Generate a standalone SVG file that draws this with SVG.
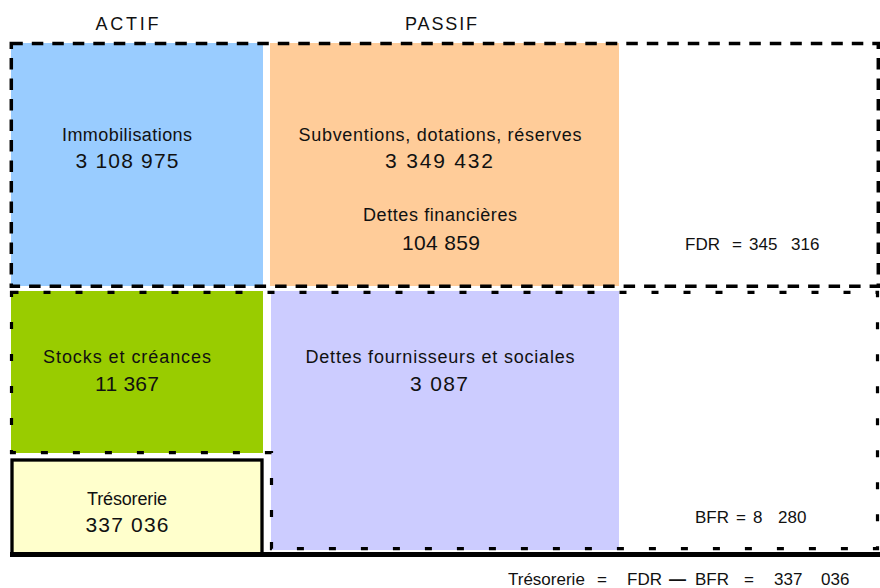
<svg xmlns="http://www.w3.org/2000/svg" width="880" height="588" viewBox="0 0 880 588">
<style>
text{font-family:"Liberation Sans",Arial,sans-serif;fill:#111;text-anchor:middle}
.lbl{font-size:18px}
.num{font-size:21px}
.sm{font-size:17px;text-anchor:start}
.fdr{fill:none;stroke:#000;stroke-width:3.5;stroke-dasharray:11.5px 9px}
.bfr{fill:none;stroke:#000;stroke-width:3.2px;stroke-dasharray:7px 25px}
</style>
<rect width="880" height="588" fill="#fff"/>
<text class="lbl" x="127" y="30" textLength="63" lengthAdjust="spacing">ACTIF</text>
<text class="lbl" x="441" y="30" textLength="72" lengthAdjust="spacing">PASSIF</text>
<g id="immobilisations">
<rect x="11" y="43" width="252" height="243" fill="#99CCFF"/>
<text class="lbl" x="127" y="141" textLength="130" lengthAdjust="spacing">Immobilisations</text>
<text class="num" x="127" y="168" textLength="103" lengthAdjust="spacing">3 108 975</text>
</g>
<g id="capitaux">
<rect x="270" y="43" width="349" height="243" fill="#FFCC99"/>
<text class="lbl" x="440" y="141" textLength="283" lengthAdjust="spacing">Subventions, dotations, réserves</text>
<text class="num" x="439" y="168" textLength="108" lengthAdjust="spacing">3 349 432</text>
<text class="lbl" x="440" y="221" textLength="154" lengthAdjust="spacing">Dettes financières</text>
<text class="num" x="441" y="250" textLength="78" lengthAdjust="spacing">104 859</text>
</g>
<g id="stocks">
<rect x="11" y="291" width="252" height="162" fill="#99CC00"/>
<text class="lbl" x="127" y="363" textLength="168" lengthAdjust="spacing">Stocks et créances</text>
<text class="num" x="127" y="391" textLength="64" lengthAdjust="spacing">11 367</text>
</g>
<g id="dettes">
<rect x="271" y="291" width="348" height="259" fill="#CCCCFF"/>
<text class="lbl" x="440" y="363" textLength="269" lengthAdjust="spacing">Dettes fournisseurs et sociales</text>
<text class="num" x="439" y="391" textLength="58" lengthAdjust="spacing">3 087</text>
</g>
<g id="tresorerie">
<rect x="12" y="460" width="250" height="94" fill="#FFFFCC" stroke="#000" stroke-width="3.3"/>
<text class="lbl" x="127" y="505" textLength="80" lengthAdjust="spacing">Trésorerie</text>
<text class="num" x="127" y="532" textLength="83" lengthAdjust="spacing">337 036</text>
</g>
<g id="connectors">
<rect class="fdr" x="11.3" y="43.5" width="867" height="242.8"/>
<path class="bfr" d="M11.5,292.3 H877.5 V548.7 H271.5 V452.7 H11.5 Z"/>
<line x1="10" y1="554.5" x2="880" y2="554.5" stroke="#000" stroke-width="5"/>
</g>
<g id="fdr-label">
<text class="sm" y="250"><tspan x="685">FDR</tspan><tspan x="732">=</tspan><tspan x="749">345</tspan><tspan x="791">316</tspan></text>
</g>
<g id="bfr-label">
<text class="sm" y="523"><tspan x="695">BFR</tspan><tspan x="736">=</tspan><tspan x="753">8</tspan><tspan x="778">280</tspan></text>
</g>
<g id="formule">
<text class="sm" y="585" font-size="16.5"><tspan x="508">Trésorerie</tspan><tspan x="597">=</tspan><tspan x="627">FDR</tspan><tspan x="669" font-weight="bold">—</tspan><tspan x="695">BFR</tspan><tspan x="744">=</tspan><tspan x="774">337</tspan><tspan x="821">036</tspan></text>
</g>
</svg>
